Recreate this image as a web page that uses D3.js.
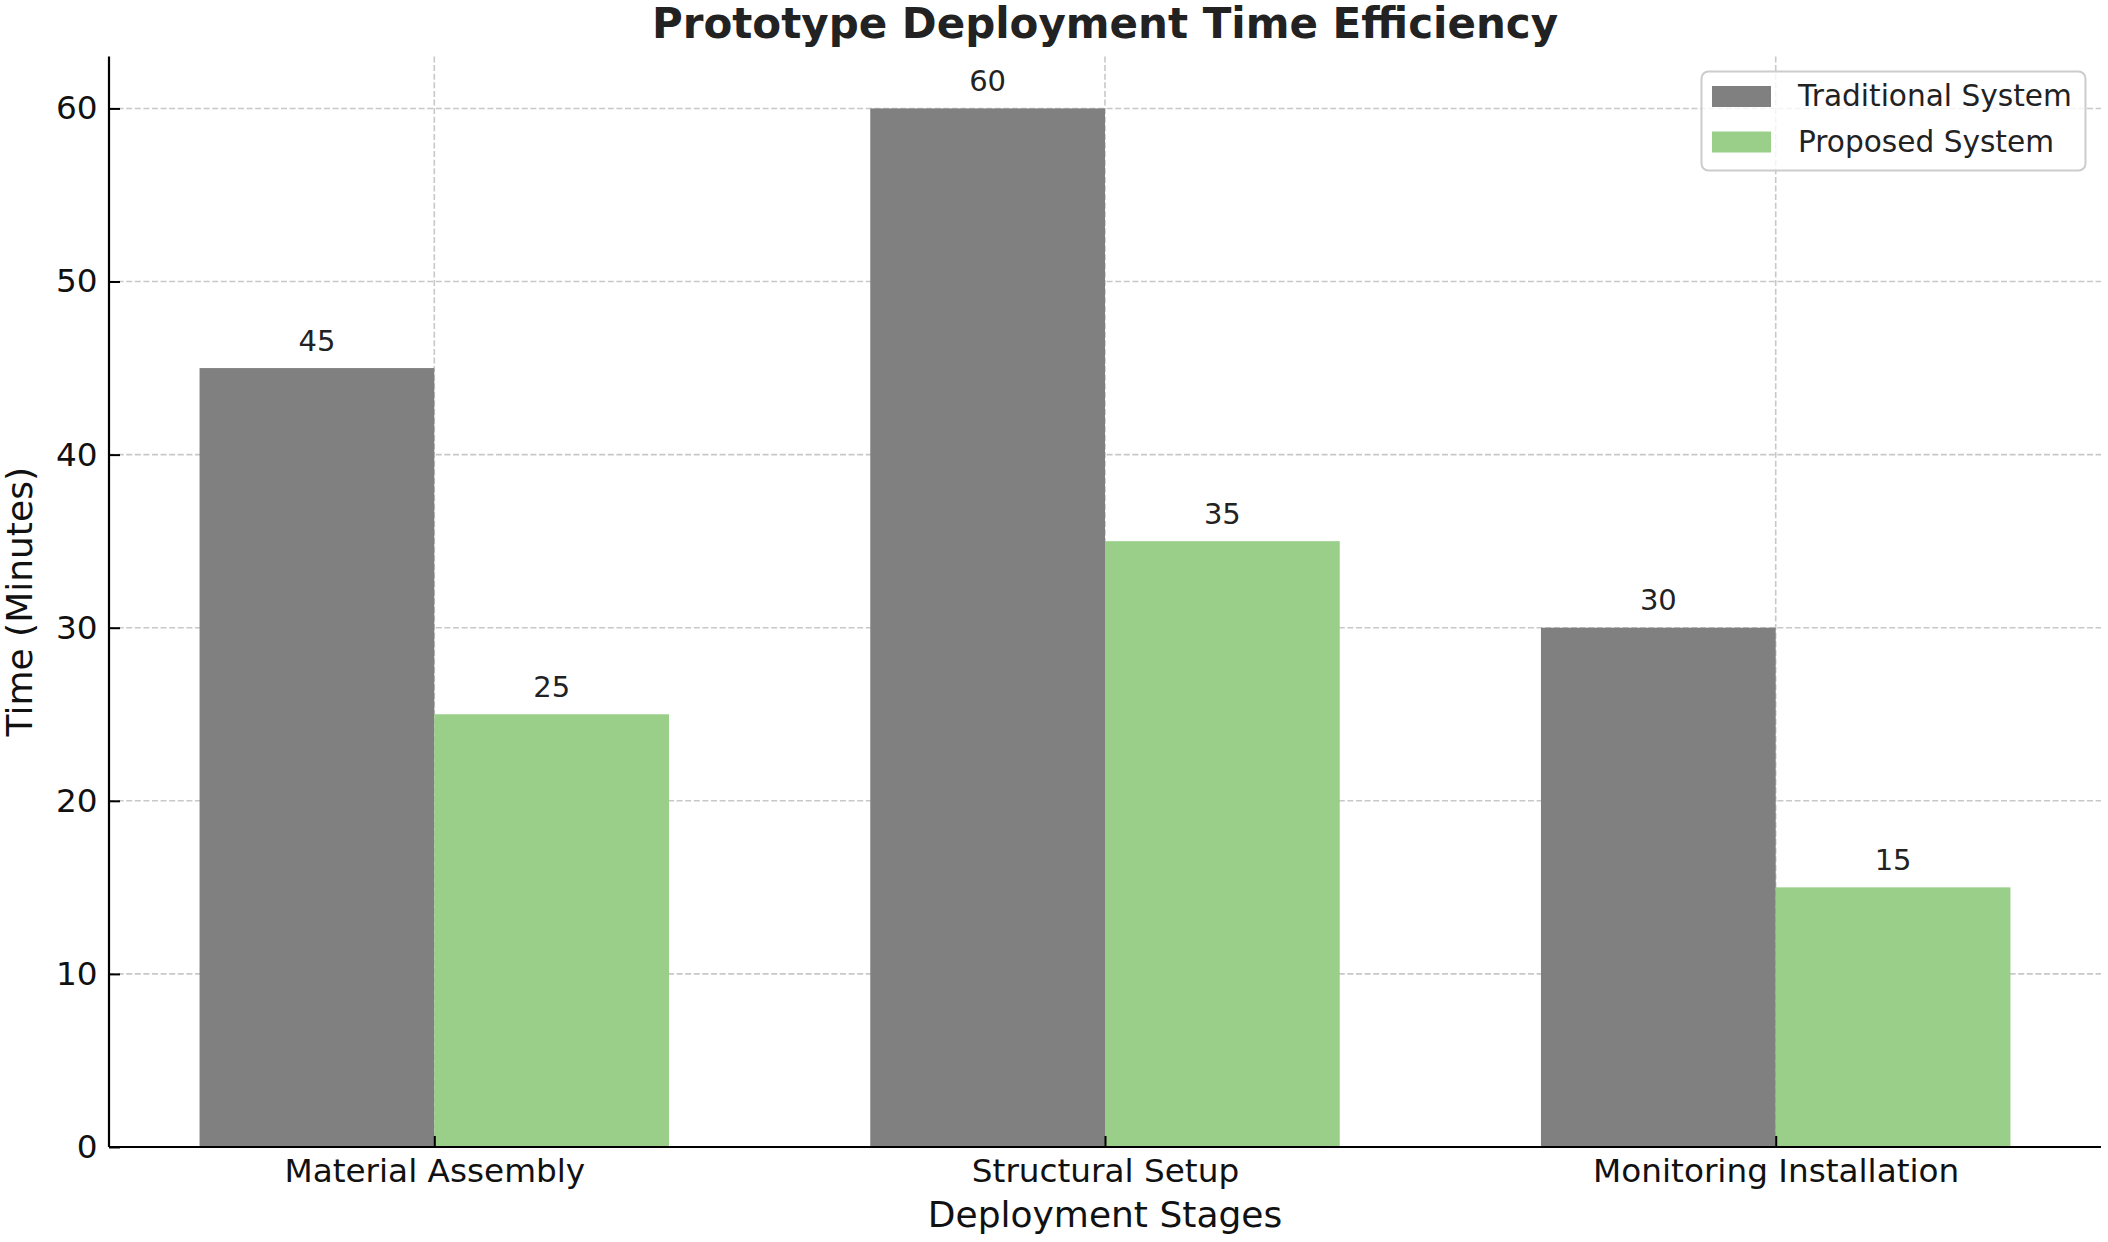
<!DOCTYPE html>
<html>
<head>
<meta charset="utf-8">
<script src="https://cdn.jsdelivr.net/npm/d3@7"></script>
<style>
  html, body { margin: 0; padding: 0; background: #fff; }
  svg { display: block; font-family: "DejaVu Sans", sans-serif; }
</style>
</head>
<body>
<svg id="chart" width="2108" height="1242"></svg>
<script>
const categories = ["Material Assembly", "Structural Setup", "Monitoring Installation"];
const seriesNames = ["Traditional System", "Proposed System"];
const traditional = [45, 60, 30];
const proposed = [25, 35, 15];
const yTicks = [0, 10, 20, 30, 40, 50, 60];
const colors = ["#808080", "#9acf8a"];

(function () {
const pL = 109, pR = 2101, pT = 56.5, pB = 1147;
const barW = 0.35;

const svg = d3.select("#chart");
const x = d3.scaleLinear().domain([-0.485, 2.485]).range([pL, pR]);
const y = d3.scaleLinear().domain([0, 63]).range([pB, pT]);

// grid
const grid = svg.append("g").attr("stroke", "#c8c8c8").attr("stroke-width", 1.6).attr("stroke-dasharray", "6,2.6");
grid.selectAll("line.h").data(yTicks).join("line")
  .attr("x1", pL).attr("x2", pR)
  .attr("y1", d => y(d)).attr("y2", d => y(d));
grid.selectAll("line.v").data(categories.map((c, i) => i)).join("line")
  .attr("x1", d => x(d)).attr("x2", d => x(d))
  .attr("y1", pT).attr("y2", pB);

// bars
const series = [traditional, proposed];
series.forEach((vals, s) => {
  const off = s === 0 ? -barW : 0;
  svg.append("g").selectAll("rect").data(vals).join("rect")
    .attr("x", (d, i) => x(i + off))
    .attr("width", (d, i) => x(i + off + barW) - x(i + off))
    .attr("y", d => y(d))
    .attr("height", d => y(0) - y(d))
    .attr("fill", colors[s]);
  svg.append("g").selectAll("text").data(vals).join("text")
    .attr("x", (d, i) => x(i + off + barW / 2))
    .attr("y", d => y(d + 1))
    .attr("text-anchor", "middle")
    .attr("font-size", 29)
    .attr("fill", "#222")
    .text(d => d);
});

// axes
const yAxis = svg.append("g").attr("transform", `translate(${pL},0)`)
  .call(d3.axisLeft(y).tickValues(yTicks).tickSizeInner(-11).tickSizeOuter(0).tickPadding(11.4));
yAxis.select(".domain").attr("stroke", "#000").attr("stroke-width", 2.2)
  .attr("d", `M0,${pT}V${pB}`);
yAxis.selectAll(".tick line").attr("stroke", "#000").attr("stroke-width", 2);
yAxis.selectAll(".tick text").attr("font-size", 32.7).attr("fill", "#111").attr("font-family", "DejaVu Sans");

const xAxis = svg.append("g").attr("transform", `translate(0,${pB})`)
  .call(d3.axisBottom(x).tickValues([0, 1, 2]).tickFormat(i => categories[i]).tickSizeInner(-11).tickSizeOuter(0).tickPadding(12));
xAxis.select(".domain").attr("stroke", "#000").attr("stroke-width", 2.2)
  .attr("d", `M${pL},0H${pR}`);
xAxis.selectAll(".tick line").attr("stroke", "#000").attr("stroke-width", 2);
xAxis.selectAll(".tick text").attr("font-size", 32.7).attr("fill", "#111").attr("font-family", "DejaVu Sans");

// labels
svg.append("text").attr("x", (pL + pR) / 2).attr("y", 38)
  .attr("text-anchor", "middle").attr("font-size", 42).attr("font-weight", "bold")
  .attr("fill", "#222").text("Prototype Deployment Time Efficiency");
svg.append("text").attr("x", (pL + pR) / 2).attr("y", 1227)
  .attr("text-anchor", "middle").attr("font-size", 36).attr("fill", "#111")
  .text("Deployment Stages");
svg.append("text").attr("transform", `translate(32,${(pT + pB) / 2}) rotate(-90)`)
  .attr("text-anchor", "middle").attr("font-size", 36).attr("fill", "#111")
  .text("Time (Minutes)");

// legend
const lg = svg.append("g");
lg.append("rect").attr("x", 1701.5).attr("y", 71.5).attr("width", 384).attr("height", 99)
  .attr("rx", 7).attr("fill", "#fff").attr("fill-opacity", 0.8)
  .attr("stroke", "#cccccc").attr("stroke-width", 2);
seriesNames.forEach((n, i) => {
  lg.append("rect").attr("x", 1712).attr("y", 86 + i * 45.5).attr("width", 59).attr("height", 21)
    .attr("fill", colors[i]);
  lg.append("text").attr("x", 1798).attr("y", 106 + i * 45.5)
    .attr("font-size", 29.6).attr("fill", "#222").text(n);
});
})();
</script>
</body>
</html>
